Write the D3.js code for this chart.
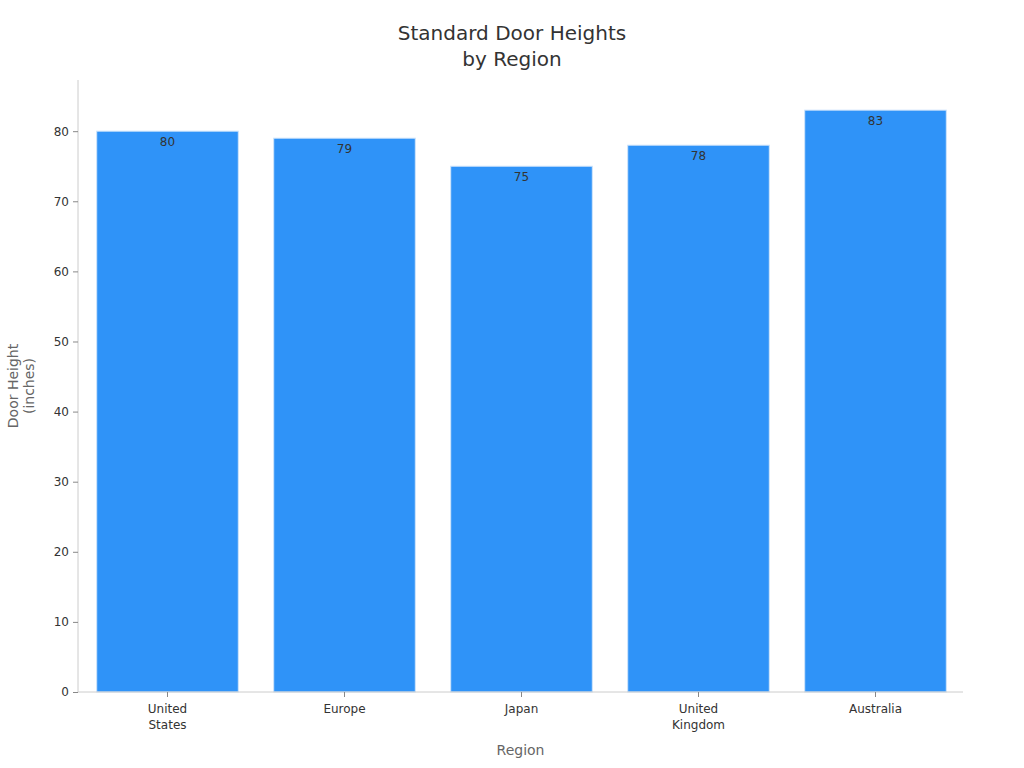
<!DOCTYPE html>
<html>
<head>
<meta charset="utf-8">
<script src="https://cdn.jsdelivr.net/npm/d3@7"></script>
<style>
  body { margin: 0; background: #fff; font-family: "DejaVu Sans", sans-serif; }
</style>
</head>
<body>
<script>
// chart data
var regions = [["United", "States"], ["Europe"], ["Japan"], ["United", "Kingdom"], ["Australia"]];
var heights = [80, 79, 75, 78, 83];
var yTicks = [0, 10, 20, 30, 40, 50, 60, 70, 80];

var W = 1024, H = 768;
var margin = {top: 80, right: 61, bottom: 76, left: 78};

var svg = d3.select("body").append("svg")
  .attr("width", W)
  .attr("height", H);

var names = regions.map(d => d.join(" "));

var x = d3.scaleBand()
  .domain(names)
  .range([margin.left + 1, W - margin.right + 1])
  .paddingInner(0.2)
  .paddingOuter(0.1);

var y = d3.scaleLinear()
  .domain([0, 87.3])
  .range([H - margin.bottom, margin.top]);

// title
var title = svg.append("text")
  .attr("x", 512)
  .attr("y", 40)
  .attr("text-anchor", "middle")
  .style("font-size", "20px")
  .style("fill", "#333");
title.append("tspan").attr("x", 512).text("Standard Door Heights");
title.append("tspan").attr("x", 512).attr("dy", 26).text("by Region");

// bars
svg.selectAll("rect.bar")
  .data(heights)
  .enter().append("rect")
  .attr("class", "bar")
  .attr("x", (d, i) => x(names[i]))
  .attr("y", d => y(d))
  .attr("width", x.bandwidth())
  .attr("height", d => y(0) - y(d))
  .attr("fill", "#2f93f8")
  .attr("stroke", "#cfe4fb")
  .attr("stroke-width", 1);

svg.selectAll("text.val")
  .data(heights)
  .enter().append("text")
  .attr("class", "val")
  .attr("x", (d, i) => x(names[i]) + x.bandwidth() / 2)
  .attr("y", d => y(d) + 15)
  .attr("text-anchor", "middle")
  .style("font-size", "12px")
  .style("fill", "#333")
  .text(d => d);

// y axis
var yAxis = svg.append("g")
  .attr("transform", "translate(" + margin.left + ",0)")
  .call(d3.axisLeft(y).tickValues(yTicks).tickSize(5).tickPadding(4));
yAxis.select(".domain").attr("stroke", "#ccc").attr("d", "M0," + y(0) + "V" + margin.top);
yAxis.selectAll(".tick line").attr("stroke", "#888");
yAxis.selectAll(".tick text").style("font-size", "12px").style("fill", "#333").style("font-family", "DejaVu Sans");

// x axis
var xAxis = svg.append("g")
  .attr("transform", "translate(0," + y(0) + ")")
  .call(d3.axisBottom(x).tickSize(5).tickPadding(4));
xAxis.select(".domain").attr("stroke", "#ccc").attr("d", "M" + margin.left + ",0H" + (W - margin.right));
xAxis.selectAll(".tick line").attr("stroke", "#888");
xAxis.selectAll(".tick text").remove();
xAxis.selectAll(".tick").each(function (d, i) {
  var t = d3.select(this).append("text")
    .attr("y", 21)
    .attr("text-anchor", "middle")
    .style("font-size", "12px")
    .style("fill", "#333")
    .style("font-family", "DejaVu Sans");
  regions[i].forEach(function (line, k) {
    t.append("tspan").attr("x", 0).attr("dy", k ? 16 : 0).text(line);
  });
});

// axis titles
svg.append("text")
  .attr("x", (margin.left + W - margin.right) / 2)
  .attr("y", 755)
  .attr("text-anchor", "middle")
  .style("font-size", "14px")
  .style("fill", "#666")
  .text("Region");

var yt = svg.append("text")
  .attr("transform", "translate(18," + ((y(0) + margin.top) / 2) + ") rotate(-90)")
  .attr("text-anchor", "middle")
  .style("font-size", "14px")
  .style("fill", "#666");
yt.append("tspan").attr("x", 0).attr("y", 0).text("Door Height");
yt.append("tspan").attr("x", 0).attr("dy", 16).text("(inches)");
</script>
</body>
</html>
